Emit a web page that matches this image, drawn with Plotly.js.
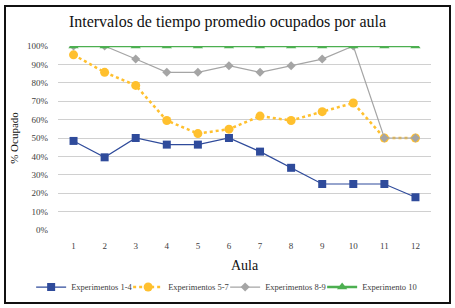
<!DOCTYPE html>
<html><head><meta charset="utf-8">
<script src="https://cdn.plot.ly/plotly-3.0.1.min.js"></script>
<style>
html,body{margin:0;padding:0;background:#fff;}
#wrap{position:relative;width:455px;height:308px;}
#chart{width:455px;height:308px;}
#frame{position:absolute;left:4px;top:5px;width:443px;height:295px;border:2px solid #111;pointer-events:none;}
</style></head>
<body>
<div id="wrap"><div id="chart"></div><div id="frame"></div></div>
<script>
const aulas = ['1','2','3','4','5','6','7','8','9','10','11','12'];
const exp14 = [0.484, 0.395, 0.50, 0.464, 0.464, 0.50, 0.426, 0.338, 0.25, 0.25, 0.25, 0.178];
const exp57 = [0.952, 0.857, 0.786, 0.595, 0.524, 0.548, 0.619, 0.595, 0.643, 0.690, 0.50, 0.50];
const exp89 = [1.0, 1.0, 0.929, 0.857, 0.857, 0.893, 0.857, 0.893, 0.929, 1.0, 0.50, 0.50];
const exp10 = [1,1,1,1,1,1,1,1,1,1,1,1];
const names = ['Experimentos 1-4','Experimentos 5-7','Experimentos 8-9','Experimento 10'];
const yTicks = [0,0.1,0.2,0.3,0.4,0.5,0.6,0.7,0.8,0.9,1.0];
const yTickText = ['0%','10%','20%','30%','40%','50%','60%','70%','80%','90%','100%'];

const F = '"Liberation Serif", "DejaVu Serif", serif';
const traces = [
 {x:aulas,y:exp14,name:names[0],mode:'lines+markers',line:{color:'#2F4B9B',width:1.2},marker:{symbol:'square',size:8,color:'#2F4B9B'}},
 {x:aulas,y:exp57,name:names[1],mode:'lines+markers',line:{color:'#FFC02E',width:2.5,dash:'dot'},marker:{symbol:'circle',size:9,color:'#FFC02E'}},
 {x:aulas,y:exp89,name:names[2],mode:'lines+markers',line:{color:'#A5A5A5',width:1.2},marker:{symbol:'diamond',size:7,color:'#A5A5A5'}},
 {x:aulas,y:exp10,name:names[3],mode:'lines+markers',line:{color:'#4CAF50',width:2.5},marker:{symbol:'triangle-up',size:9,color:'#4CAF50'}}
];
const layout = {
 width:455,height:308,
 margin:{l:58,r:24,t:46,b:78,autoexpand:false},
 paper_bgcolor:'#fff',plot_bgcolor:'#fff',
 font:{family:F,color:'#404040',size:9},
 title:{text:'Intervalos de tiempo promedio ocupados por aula',font:{family:F,size:16,color:'#111'},x:0.5,xanchor:'center',y:0.93,yanchor:'middle'},
 xaxis:{type:'category',range:[-0.5,11.5],showgrid:false,zeroline:false,showline:false,ticks:'',ticklabelstandoff:9,
   tickfont:{family:F,size:9,color:'#404040'},
   title:{text:'Aula',font:{family:F,size:14,color:'#111'},standoff:10}},
 yaxis:{range:[0,1],tickvals:yTicks,ticktext:yTickText,showgrid:true,gridcolor:'#D0D0D0',gridwidth:1,zeroline:false,showline:false,ticks:'',ticklabelstandoff:9,
   tickfont:{family:F,size:9,color:'#404040'},
   title:{text:'% Ocupado',font:{family:F,size:11,color:'#111'},standoff:6}},
 showlegend:true,
 legend:{orientation:'h',x:-0.072,xanchor:'left',y:-0.31,yanchor:'middle',font:{family:F,size:8.5,color:'#404040'},itemwidth:30,entrywidth:52,entrywidthmode:'pixels',tracegroupgap:0}
};
Plotly.newPlot('chart',traces,layout,{displayModeBar:false,staticPlot:true});
</script>
</body></html>
